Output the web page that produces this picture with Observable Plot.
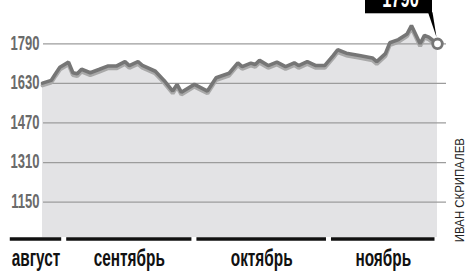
<!DOCTYPE html>
<html><head><meta charset="utf-8">
<script src="https://cdn.jsdelivr.net/npm/d3@7"></script>
<script src="https://cdn.jsdelivr.net/npm/@observablehq/plot@0.6"></script>
<style>
html,body{margin:0;padding:0;background:#fff;}
#chart svg{display:block;}
</style></head><body><div id="chart"></div>
<script>
const dates = ["2010-08-27","2010-08-29","2010-08-30","2010-08-31","2010-09-02","2010-09-03","2010-09-04","2010-09-05","2010-09-07","2010-09-09","2010-09-11","2010-09-13","2010-09-15","2010-09-16","2010-09-18","2010-09-19","2010-09-22","2010-09-24","2010-09-26","2010-09-27","2010-09-28","2010-10-01","2010-10-04","2010-10-06","2010-10-09","2010-10-11","2010-10-12","2010-10-14","2010-10-15","2010-10-16","2010-10-18","2010-10-20","2010-10-22","2010-10-24","2010-10-25","2010-10-27","2010-10-29","2010-10-31","2010-11-02","2010-11-03","2010-11-05","2010-11-08","2010-11-11","2010-11-12","2010-11-14","2010-11-15","2010-11-17","2010-11-19","2010-11-20","2010-11-22","2010-11-23","2010-11-24","2010-11-26"];
const values = [1631,1642,1669,1695,1716,1673,1669,1687,1673,1686,1700,1700,1718,1702,1718,1703,1679,1642,1599,1626,1594,1626,1599,1653,1671,1713,1698,1712,1706,1723,1702,1716,1698,1713,1702,1718,1702,1702,1743,1766,1752,1743,1733,1718,1750,1794,1807,1830,1864,1790,1824,1817,1790];
const yTicks = [1150, 1310, 1470, 1630, 1790];
const yDomain = [1007, 1965];
const months = ["август", "сентябрь", "октябрь", "ноябрь"];
const monthStart = ["2010-08-19", "2010-09-01", "2010-10-01", "2010-11-01"];
const monthEnd = ["2010-09-01", "2010-10-01", "2010-11-01", "2010-11-26"];
const credit = "ИВАН СКРИПАЛЕВ";

const parse = d3.utcParse("%Y-%m-%d");
const data = dates.map((d, i) => ({date: parse(d), value: values[i]}));
const monthData = months.map((m, i) => ({name: m, start: parse(monthStart[i]), end: parse(monthEnd[i])}));
monthData.forEach(d => d.mid = new Date((+d.start + +d.end) / 2));
const last = data[data.length - 1];

const marks = {
  area: Plot.areaY(data, {x: "date", y1: () => yDomain[0], y2: "value", fill: "#e3e3e5"}),
  grid: Plot.ruleY(yTicks, {stroke: "#9c9c9c", strokeWidth: 1.3, insetLeft: 1, insetRight: -9}),
  shadow: Plot.line(data, {x: "date", y: "value", stroke: "#a9a9a9", strokeWidth: 4, dy: 2.3, strokeLinejoin: "miter"}),
  line: Plot.line(data, {x: "date", y: "value", stroke: "#767676", strokeWidth: 3.6, strokeLinejoin: "miter"}),
  bars: Plot.ruleY(monthData, {y: () => yDomain[0], x1: "start", x2: "end", stroke: "#111", strokeWidth: 3.6, dy: 1.5, insetLeft: 2.5, insetRight: 2.5}),
  months: Plot.text(monthData, {x: "mid", text: "name", frameAnchor: "bottom", lineAnchor: "bottom", dy: 28.3, fontSize: 24, fontWeight: 700, fill: "#111"}),
  yticks: Plot.text(yTicks, {y: d => d, text: d => String(d), frameAnchor: "left", textAnchor: "end", lineAnchor: "middle", dx: -3, dy: -1, fontSize: 21, fontWeight: 700, fill: "#6a6a6a"}),
  dot: Plot.dot([last], {x: "date", y: "value", r: 4.8, stroke: "#767676", strokeWidth: 2.8, fill: "#fff"}),
  credit: Plot.text([credit], {frameAnchor: "bottom-right", rotate: -90, textAnchor: "start", lineAnchor: "bottom", dx: 26.5, dy: 4.7, fontSize: 13, fill: "#222"})
};
const names = Object.keys(marks);

const chart = Plot.plot({
  width: 469, height: 271,
  marginLeft: 42, marginRight: 32, marginTop: 0, marginBottom: 34,
  x: {type: "utc", domain: [data[0].date, last.date], axis: null},
  y: {domain: yDomain, axis: null},
  style: {fontFamily: "'Liberation Sans', Arial, sans-serif", background: "#fff"},
  marks: names.map(n => marks[n])
});

const groups = Array.from(chart.children).filter(n => n.tagName.toLowerCase() === "g");
const G = {};
names.forEach((n, i) => G[n] = groups[i]);

function condense(node, k) {
  if (!node) return;
  const list = node.tagName.toLowerCase() === "text" ? [node] : Array.from(node.querySelectorAll("text"));
  list.forEach(function(el) {
    const t = el.getAttribute("transform");
    if (t) el.setAttribute("transform", t + ` scale(${k},1)`);
    else {
      const x = parseFloat(el.getAttribute("x") || 0);
      el.setAttribute("x", 0);
      el.setAttribute("transform", `translate(${x},0) scale(${k},1)`);
    }
  });
}
condense(G.months, 0.64);
condense(G.yticks, 0.62);
condense(G.credit, 0.88);

// annotation of the last value, positioned through Plot's scales
const sx = chart.scale("x"), sy = chart.scale("y");
const cx = sx.apply(last.date), cy = sy.apply(last.value);
const ann = d3.create("svg:g");
ann.append("rect").attr("x", cx - 72).attr("y", cy - 70).attr("width", 67).attr("height", 40).attr("fill", "#000");
ann.append("path").attr("d", `M${cx - 9},${cy - 31} L${cx - 4.5},${cy - 31} L${cx - 0.5},${cy - 6} Z`).attr("fill", "#000");
ann.append("text").attr("transform", `translate(${cx - 36.5},${cy - 36}) scale(0.66,1)`)
  .attr("text-anchor", "middle").attr("fill", "#fff").attr("font-size", 25).attr("font-weight", 700)
  .text(String(last.value));
if (G.dot) chart.insertBefore(ann.node(), G.dot); else chart.append(ann.node());

document.getElementById("chart").append(chart);
</script>
</body></html>
